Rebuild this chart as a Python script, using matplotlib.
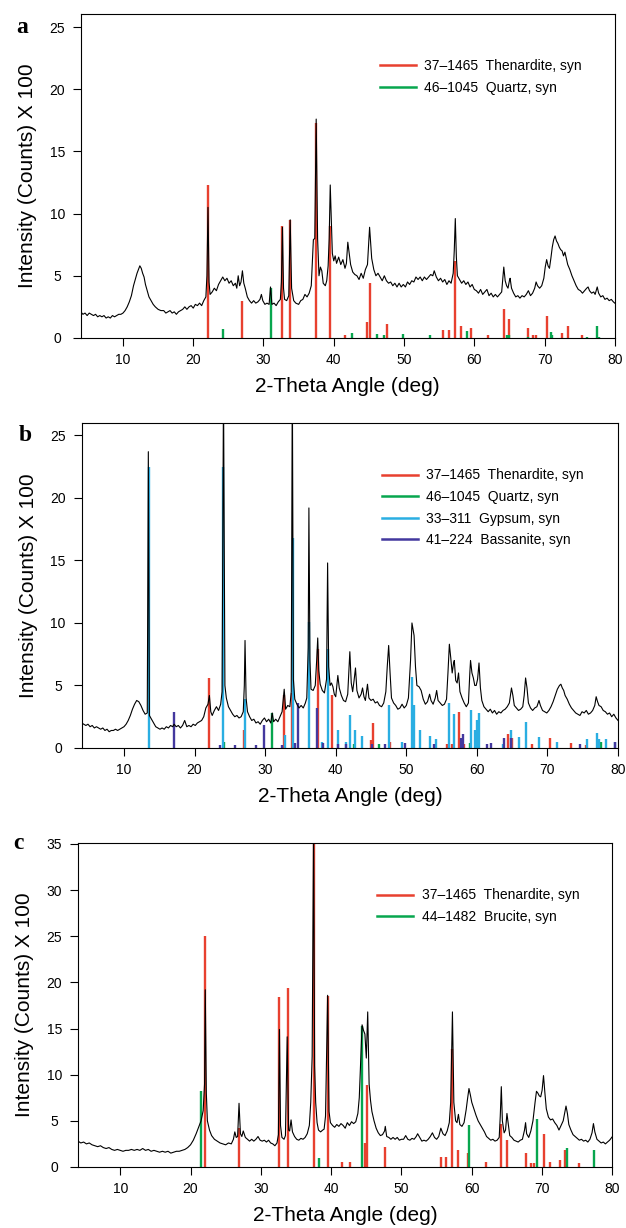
import matplotlib
matplotlib.use("Agg")
import matplotlib.pyplot as plt
from matplotlib.lines import Line2D

plt.rcParams['font.family'] = ['Liberation Sans', 'DejaVu Sans']

RED = '#e8402f'
GREEN = '#07a64e'
CYAN = '#2aaee2'
PURPLE = '#43389e'

# ---- panel a : measured pattern ----
xa = [4.0, 4.3, 4.6, 4.9, 5.2, 5.5, 5.8, 6.1, 6.4, 6.7, 7.0, 7.3, 7.6, 7.9, 8.2, 8.5, 8.8, 9.1, 9.4, 9.7,
      10.0, 10.3, 10.6, 10.9, 11.2, 11.5, 11.8, 12.0, 12.2, 12.4, 12.6, 12.8, 13.0, 13.2, 13.4, 13.7, 14.0,
      14.3, 14.6, 15.0, 15.4, 15.8, 16.1, 16.4, 16.7, 17.0, 17.3, 17.6, 17.9, 18.2, 18.5, 18.8, 19.1, 19.4,
      19.7, 20.0, 20.3, 20.6, 20.9, 21.2, 21.5, 21.8, 21.95, 22.1, 22.25, 22.4, 22.7, 23.0, 23.3, 23.6, 23.9,
      24.2, 24.5, 24.8, 25.1, 25.4, 25.7, 26.0, 26.2, 26.4, 26.6, 26.8, 27.0, 27.2, 27.4, 27.7, 28.0, 28.3,
      28.6, 28.9, 29.2, 29.5, 29.7, 29.9, 30.2, 30.5, 30.8, 31.0, 31.2, 31.5, 31.8, 32.1, 32.4, 32.55, 32.7,
      32.85, 33.0, 33.3, 33.6, 33.8, 34.0, 34.3, 34.6, 35.0, 35.3, 35.6, 35.9, 36.2, 36.5, 36.8, 37.1, 37.3,
      37.5, 37.7, 37.9, 38.1, 38.3, 38.5, 38.8, 39.0, 39.2, 39.35, 39.5, 39.65, 39.8, 40.0, 40.2, 40.4, 40.7,
      41.0, 41.3, 41.6, 41.8, 42.0, 42.2, 42.4, 42.7, 43.0, 43.3, 43.6, 43.9, 44.2, 44.5, 44.8, 45.1, 45.4,
      45.7, 46.0, 46.3, 46.6, 46.9, 47.2, 47.5, 47.8, 48.1, 48.4, 48.7, 49.0, 49.3, 49.6, 49.9, 50.2, 50.5,
      50.8, 51.1, 51.4, 51.7, 52.0, 52.3, 52.6, 52.9, 53.2, 53.5, 53.8, 54.1, 54.3, 54.6, 54.9, 55.2, 55.5,
      55.8, 56.1, 56.4, 56.7, 57.0, 57.15, 57.3, 57.45, 57.6, 57.9, 58.2, 58.5, 58.8, 59.1, 59.4, 59.7, 60.0,
      60.3, 60.6, 60.9, 61.2, 61.5, 61.8, 62.1, 62.4, 62.7, 63.0, 63.3, 63.6, 63.9, 64.2, 64.4, 64.6, 64.8,
      65.0, 65.1, 65.3, 65.6, 65.9, 66.2, 66.5, 66.8, 67.1, 67.4, 67.7, 68.0, 68.3, 68.6, 68.8, 69.0, 69.3,
      69.6, 69.9, 70.1, 70.3, 70.5, 70.7, 70.9, 71.1, 71.3, 71.5, 71.7, 71.9, 72.1, 72.3, 72.5, 72.7, 72.9,
      73.1, 73.3, 73.6, 73.9, 74.2, 74.5, 74.8, 75.1, 75.4, 75.7, 76.0, 76.2, 76.4, 76.7, 77.0, 77.2, 77.5,
      77.7, 78.0, 78.3, 78.6, 78.9, 79.2, 79.5, 79.8, 80.0]
ya = [2.1, 1.9, 2.0, 1.8, 2.0, 1.9, 1.8, 1.9, 1.7, 1.8, 1.7, 1.8, 1.6, 1.7, 1.6, 1.8, 1.7, 1.8, 1.9, 1.9,
      2.0, 2.2, 2.5, 2.9, 3.4, 4.2, 4.8, 5.2, 5.5, 5.8, 5.6, 5.2, 4.9, 4.3, 3.9, 3.3, 3.0,
      2.7, 2.5, 2.3, 2.2, 2.2, 2.0, 2.1, 2.2, 2.0, 2.1, 1.9, 2.1, 2.2, 2.3, 2.5, 2.3, 2.5,
      2.6, 2.4, 2.7, 2.6, 2.8, 2.6, 3.0, 3.3, 5.0, 10.5, 4.5, 3.5, 3.7, 4.0, 3.8, 4.3, 4.6,
      4.9, 4.6, 4.8, 4.4, 4.6, 4.2, 4.4, 4.0, 5.0, 4.2, 4.5, 5.4, 4.4, 4.0, 3.3, 3.0, 2.8,
      3.0, 2.8, 2.9, 3.1, 3.5, 3.0, 2.7, 2.8, 2.7, 4.1, 2.7, 2.8, 2.6, 2.9, 3.1, 4.5, 8.9,
      4.0, 3.1, 3.0, 3.4, 9.5, 4.0, 3.0, 2.8, 2.7, 3.0, 3.1, 3.5, 3.3, 3.6, 4.2, 7.9, 8.0,
      17.6, 8.0, 5.0, 5.7, 5.4, 4.4, 4.2, 4.6, 5.8, 8.0, 12.3, 9.5, 6.8, 6.2, 6.6, 6.0, 6.5,
      5.9, 6.3, 5.6, 6.0, 7.7, 6.8, 5.9, 5.3, 5.1, 5.0, 4.7, 5.2, 4.8, 5.5, 5.9, 8.9, 6.4,
      5.5, 5.0, 5.2, 4.9, 4.6, 5.0, 4.6, 4.4, 4.5, 4.2, 4.4, 4.1, 4.4, 4.1, 4.3, 4.1, 4.5,
      4.3, 4.6, 4.5, 4.9, 4.7, 4.9, 4.6, 4.9, 4.7, 4.9, 5.1, 5.0, 5.4, 4.9, 4.6, 4.8, 4.5,
      4.7, 4.3, 4.6, 4.4, 5.2, 7.0, 9.6, 6.5, 5.0, 4.7, 4.4, 4.6, 4.3, 4.5, 4.1, 4.3, 3.9,
      3.8, 3.6, 3.9, 3.5, 3.7, 3.9, 3.4, 3.6, 3.3, 3.5, 3.3, 3.5, 3.7, 5.7, 4.6, 4.2, 4.0,
      4.6, 4.8, 4.0, 3.6, 3.3, 3.4, 3.2, 3.4, 3.3, 3.5, 3.8, 3.4, 3.6, 4.0, 4.5, 4.2, 4.0,
      4.2, 4.8, 5.7, 6.3, 5.8, 5.6, 6.4, 7.3, 7.9, 8.2, 7.8, 7.6, 7.3, 7.1, 7.0, 6.6, 6.9,
      6.4, 5.9, 5.5, 5.0, 4.6, 4.2, 3.9, 3.8, 3.6, 3.8, 4.0, 4.1, 3.8, 3.6, 3.7, 3.5, 4.1,
      3.6, 3.3, 3.4, 3.1, 3.2, 3.0, 3.1, 2.9, 2.8]

# reference sticks, panel a
then_a_pos = [22.1, 26.9, 32.7, 33.8, 37.5, 39.5, 41.6, 44.8, 45.1, 47.6, 55.6, 56.4, 57.3, 58.1, 59.6,
              62.0, 64.2, 65.0, 67.7, 68.4, 68.8, 70.3, 72.5, 73.3, 75.3]
then_a_h = [12.3, 3.0, 9.0, 9.5, 17.3, 9.0, 0.2, 1.3, 4.4, 1.1, 0.6, 0.6, 6.2, 1.0, 0.8,
            0.2, 2.3, 1.5, 0.8, 0.2, 0.2, 1.8, 0.4, 0.95, 0.2]
qtz_a_pos = [24.3, 31.0, 42.6, 46.1, 47.1, 49.8, 53.7, 58.9, 64.6, 65.0, 67.6, 70.9, 71.1, 76.0, 77.4, 77.8]
qtz_a_h = [0.7, 4.0, 0.4, 0.35, 0.2, 0.3, 0.2, 0.55, 0.2, 0.2, 0.1, 0.45, 0.2, 0.1, 0.95, 0.1]

# ---- panel b : measured pattern ----
xb = [4.0, 4.3, 4.6, 4.9, 5.2, 5.5, 5.8, 6.1, 6.4, 6.7, 7.0, 7.3, 7.6, 7.9, 8.2, 8.5, 8.8, 9.1, 9.4, 9.7,
      10.0, 10.3, 10.6, 10.9, 11.2, 11.5, 11.8, 12.1, 12.4, 12.7, 13.0, 13.3, 13.45, 13.6, 13.9, 14.2, 14.5,
      14.8, 15.1, 15.4, 15.7, 16.0, 16.3, 16.6, 16.9, 17.1, 17.4, 17.7, 18.0, 18.3, 18.6, 18.9, 19.2, 19.5,
      19.8, 20.1, 20.4, 20.7, 21.0, 21.3, 21.6, 21.9, 22.1, 22.3, 22.5, 22.8, 23.1, 23.4, 23.7, 23.9, 24.1,
      24.3, 24.5, 24.8, 25.1, 25.4, 25.7, 26.0, 26.3, 26.6, 26.9, 27.05, 27.15, 27.3, 27.5, 27.8, 28.1, 28.4,
      28.7, 29.0, 29.3, 29.6, 29.9, 30.2, 30.5, 30.8, 31.0, 31.2, 31.5, 31.8, 32.1, 32.4, 32.7, 32.9, 33.2,
      33.5, 33.7, 33.85, 34.0, 34.2, 34.5, 34.8, 35.1, 35.4, 35.7, 35.9, 36.1, 36.2, 36.35, 36.5, 36.8, 37.1,
      37.3, 37.45, 37.6, 37.8, 38.1, 38.4, 38.7, 38.85, 39.0, 39.2, 39.4, 39.6, 39.8, 40.0, 40.3, 40.5, 40.8,
      41.1, 41.4, 41.7, 42.0, 42.2, 42.4, 42.6, 42.8, 43.0, 43.3, 43.6, 43.8, 44.0, 44.2, 44.5, 44.7, 45.0,
      45.3, 45.6, 45.9, 46.2, 46.5, 46.8, 47.1, 47.3, 47.5, 47.7, 47.9, 48.2, 48.5, 48.8, 49.1, 49.4, 49.7,
      50.0, 50.3, 50.6, 50.8, 51.0, 51.1, 51.3, 51.5, 51.8, 52.1, 52.4, 52.7, 53.0, 53.3, 53.5, 53.8, 54.1,
      54.3, 54.5, 54.8, 55.1, 55.4, 55.7, 55.9, 56.1, 56.3, 56.5, 56.7, 56.8, 57.0, 57.2, 57.4, 57.6, 57.9,
      58.2, 58.5, 58.8, 59.0, 59.1, 59.3, 59.5, 59.7, 59.9, 60.1, 60.3, 60.5, 60.7, 61.0, 61.3, 61.6, 61.9,
      62.2, 62.5, 62.8, 63.1, 63.4, 63.7, 64.0, 64.3, 64.6, 64.9, 65.1, 65.3, 65.6, 65.9, 66.2, 66.5, 66.7,
      66.9, 67.1, 67.3, 67.6, 67.9, 68.2, 68.5, 68.8, 69.0, 69.3, 69.6, 69.9, 70.2, 70.5, 70.8, 71.1, 71.4,
      71.7, 71.9, 72.1, 72.3, 72.5, 72.8, 73.1, 73.4, 73.7, 74.0, 74.3, 74.6, 74.9, 75.2, 75.5, 75.8, 76.1,
      76.4, 76.7, 76.9, 77.1, 77.3, 77.6, 77.9, 78.2, 78.5, 78.8, 79.1, 79.4, 79.7, 80.0]
yb = [2.0, 1.9, 1.8, 1.9, 1.7, 1.8, 1.6, 1.7, 1.6, 1.5, 1.6, 1.4, 1.5, 1.3, 1.4, 1.4, 1.5, 1.4, 1.5, 1.6,
      1.7, 1.9, 2.2, 2.6, 3.1, 3.5, 3.8, 3.7, 3.4, 3.0, 2.7, 2.8, 23.7, 2.6, 2.3, 2.0, 1.7,
      1.6, 1.5, 1.6, 1.5, 1.7, 1.6, 1.8, 1.7, 1.9, 1.7, 1.8, 1.6, 1.8, 2.2, 1.7, 1.8, 1.7,
      1.9, 1.8, 2.0, 2.1, 2.2, 2.5, 3.2, 3.5, 4.2, 2.9, 2.6, 3.0, 3.3, 3.0, 3.5, 4.5, 29.0,
      5.0, 4.0, 3.3, 3.0, 2.7, 2.5, 2.6, 2.4, 2.5, 2.9, 5.0, 8.6, 4.0, 2.9, 2.5, 2.2, 2.3,
      2.0, 2.1, 1.9, 2.2, 2.4, 2.1, 2.3, 2.0, 2.8, 2.1, 2.3, 2.1, 2.5, 2.9, 4.7, 3.1, 3.4,
      3.3, 4.5, 30.0, 5.5, 3.9, 3.5, 3.2, 3.4, 3.2, 3.6, 4.0, 8.0, 19.2, 7.0, 4.7, 4.6, 5.0,
      7.0, 8.8, 6.2, 5.1, 4.6, 4.4, 5.5, 14.8, 6.5, 5.0, 5.2, 4.9, 4.3, 4.1, 5.8, 4.8, 4.2,
      3.8, 3.7, 4.3, 7.7, 5.2, 4.5, 5.4, 6.4, 4.6, 4.0, 4.3, 4.8, 4.1, 3.8, 5.1, 4.0, 3.8,
      3.9, 3.6, 3.7, 3.4, 3.3, 3.6, 4.5, 6.5, 8.2, 6.0, 4.0, 3.6, 3.4, 3.1, 3.2, 3.5, 3.2,
      3.4, 4.0, 7.0, 10.0, 9.3, 9.0, 6.5, 5.0, 4.9, 4.6, 3.9, 3.5, 3.7, 4.3, 3.8, 3.5, 4.0,
      4.6, 3.8, 3.6, 3.4, 3.5, 3.9, 6.0, 8.3, 7.2, 6.0, 6.8, 7.0, 5.4, 5.2, 6.0, 4.5, 4.0,
      3.6, 3.3, 3.6, 6.0, 7.0, 6.0, 5.6, 5.0, 5.0, 5.5, 6.8, 4.8, 3.8, 3.3, 3.1, 2.9, 3.1,
      2.8, 3.0, 2.7, 2.9, 2.8, 3.0, 3.1, 3.3, 3.6, 4.8, 4.2, 3.4, 3.2, 3.0, 3.1, 3.3, 4.2,
      5.6, 4.8, 3.6, 3.2, 3.0, 3.2, 3.3, 3.8, 3.4, 3.0, 2.9, 2.8, 3.0, 3.3, 3.7, 4.2, 4.7,
      5.0, 5.1, 4.8, 4.6, 4.2, 3.9, 3.5, 3.2, 3.0, 2.8, 2.7, 2.6, 2.9, 2.8, 3.0, 2.7, 2.8,
      3.0, 3.4, 4.1, 3.7, 3.4, 3.3, 3.0, 2.9, 2.7, 2.8, 2.5, 2.7, 2.4, 2.2]

then_b_pos = [22.1, 27.0, 32.7, 33.8, 37.5, 39.5, 45.0, 45.3, 47.7, 55.7, 56.5, 57.4, 58.2, 64.4, 65.0,
              67.8, 70.3, 73.3, 75.5]
then_b_h = [5.6, 1.4, 4.2, 4.4, 7.9, 4.2, 0.6, 2.0, 0.5, 0.3, 0.3, 2.9, 0.3, 1.1, 0.8,
            0.3, 0.8, 0.4, 0.2]
qtz_b_pos = [24.2, 31.0, 42.6, 46.1, 59.0, 77.6]
qtz_b_h = [0.5, 2.8, 0.3, 0.3, 0.4, 0.5]
gyp_b_pos = [13.5, 24.1, 27.2, 32.8, 33.9, 36.2, 38.0, 38.9, 40.3, 41.4, 42.0, 42.8, 43.7, 47.5, 49.4,
             50.8, 51.1, 51.9, 53.3, 54.2, 56.1, 56.7, 59.2, 59.7, 60.0, 60.3, 63.7, 64.9, 65.9, 66.9,
             68.8, 71.4, 75.6, 77.0, 77.3, 78.3, 79.5]
gyp_b_h = [22.5, 22.5, 3.9, 1.0, 16.8, 10.1, 0.5, 7.9, 1.4, 0.5, 2.6, 1.4, 0.95, 3.4, 0.5,
           5.7, 3.4, 1.4, 0.95, 0.7, 3.6, 2.7, 3.0, 1.4, 2.2, 2.8, 0.3, 1.4, 0.9, 2.1,
           0.9, 0.5, 0.7, 1.2, 0.7, 0.7, 0.5]
bas_b_pos = [17.1, 23.6, 25.8, 28.7, 29.9, 32.4, 34.2, 34.6, 37.3, 38.2, 40.3, 41.4, 45.2, 47.0, 49.8,
             53.9, 57.8, 58.1, 61.5, 62.0, 63.8, 64.8, 74.6, 79.5]
bas_b_h = [2.9, 0.2, 0.2, 0.2, 1.8, 0.2, 0.4, 3.6, 3.2, 0.4, 0.3, 0.3, 0.3, 0.3, 0.4,
           0.3, 0.8, 1.1, 0.3, 0.4, 0.8, 0.8, 0.3, 0.5]

# ---- panel c : measured pattern ----
xc = [4.0, 4.4, 4.8, 5.2, 5.6, 6.0, 6.4, 6.8, 7.2, 7.6, 8.0, 8.4, 8.8, 9.2, 9.6, 10.0, 10.4, 10.8, 11.2,
      11.6, 12.0, 12.4, 12.8, 13.2, 13.6, 14.0, 14.4, 14.8, 15.2, 15.6, 16.0, 16.4, 16.8, 17.2, 17.6, 18.0,
      18.4, 18.8, 19.2, 19.6, 20.0, 20.4, 20.8, 21.2, 21.5, 21.8, 22.0, 22.1, 22.25, 22.4, 22.7, 23.0, 23.4,
      23.8, 24.2, 24.6, 25.0, 25.4, 25.8, 26.1, 26.3, 26.5, 26.7, 26.9, 27.1, 27.3, 27.5, 27.8, 28.1, 28.4,
      28.7, 29.0, 29.3, 29.6, 29.9, 30.2, 30.5, 30.8, 31.1, 31.4, 31.7, 32.0, 32.3, 32.5, 32.65, 32.8, 33.0,
      33.3, 33.5, 33.75, 33.95, 34.1, 34.3, 34.5, 34.8, 35.1, 35.4, 35.7, 36.0, 36.3, 36.6, 36.9, 37.1, 37.3,
      37.5, 37.65, 37.8, 38.0, 38.2, 38.5, 38.8, 39.0, 39.2, 39.5, 39.7, 39.9, 40.2, 40.5, 40.8, 41.1, 41.4,
      41.7, 42.0, 42.3, 42.6, 42.9, 43.2, 43.5, 43.8, 44.0, 44.2, 44.4, 44.6, 44.8, 45.0, 45.2, 45.4, 45.6,
      45.8, 46.1, 46.4, 46.7, 47.0, 47.3, 47.6, 47.7, 47.9, 48.2, 48.5, 48.8, 49.1, 49.4, 49.7, 50.0, 50.3,
      50.6, 50.9, 51.2, 51.5, 51.8, 52.1, 52.3, 52.6, 52.9, 53.2, 53.5, 53.8, 54.1, 54.4, 54.7, 55.0, 55.3,
      55.6, 55.9, 56.2, 56.5, 56.8, 57.0, 57.25, 57.45, 57.7, 57.9, 58.1, 58.3, 58.6, 58.9, 59.2, 59.4, 59.6,
      59.8, 60.0, 60.3, 60.6, 60.9, 61.2, 61.5, 61.8, 62.1, 62.4, 62.7, 63.0, 63.3, 63.6, 63.9, 64.05, 64.2,
      64.35, 64.6, 64.8, 65.0, 65.2, 65.4, 65.7, 66.0, 66.3, 66.6, 66.9, 67.2, 67.5, 67.65, 67.8, 68.1, 68.4,
      68.7, 69.0, 69.2, 69.4, 69.6, 69.8, 70.0, 70.2, 70.4, 70.6, 70.9, 71.2, 71.5, 71.8, 72.1, 72.4, 72.7,
      73.0, 73.2, 73.4, 73.6, 73.8, 74.1, 74.4, 74.7, 75.0, 75.3, 75.6, 75.9, 76.2, 76.5, 76.8, 77.1, 77.3,
      77.5, 77.8, 78.1, 78.4, 78.7, 79.0, 79.3, 79.6, 80.0]
yc = [2.8, 2.6, 2.7, 2.5, 2.6, 2.4, 2.3, 2.2, 2.3, 2.1, 2.0, 2.1, 1.9, 1.8, 1.9, 1.8, 1.7, 1.8, 1.8,
      1.9, 1.8, 1.9, 1.8, 2.0, 1.8, 1.9, 1.7, 1.8, 1.7, 1.6, 1.7, 1.6, 1.7, 1.5, 1.6, 1.7,
      1.7, 1.8, 1.9, 2.1, 2.4, 2.9, 3.6, 4.4, 5.0, 6.1, 9.0, 19.2, 8.0, 5.0, 4.0, 3.4, 3.0,
      2.8, 2.6, 2.5, 2.4, 2.6, 2.5, 3.0, 3.8, 3.2, 3.3, 6.9, 3.6, 3.3, 3.9, 3.2, 3.0, 2.8,
      3.0, 2.8, 3.0, 3.3, 2.9, 2.8, 2.9, 2.7, 2.9, 2.6, 2.5, 2.3, 2.6, 3.5, 14.9, 4.5, 3.2,
      3.0, 3.4, 14.1, 4.0, 3.9, 5.1, 3.8, 3.3, 3.0, 2.9, 3.1, 3.0, 3.2, 3.6, 4.5, 7.0, 12.0,
      37.0, 11.0, 7.0, 4.8, 4.0, 3.8, 4.0, 4.1, 5.5, 18.6, 6.0, 4.8, 4.5, 4.3, 4.6, 4.4, 4.7,
      4.5, 4.2, 4.8, 4.5, 4.9, 4.7, 4.9, 5.8, 7.5, 11.5, 15.4, 14.8, 14.4, 11.8, 16.8, 9.0, 7.2,
      6.0, 5.0, 4.2, 3.7, 3.4, 3.5, 3.9, 4.4, 3.3, 3.2, 3.0, 3.2, 3.0, 3.2, 2.9, 3.0, 3.0,
      3.4, 3.0, 2.9, 3.1, 3.0, 3.3, 3.6, 3.2, 2.8, 2.9, 2.8, 3.0, 3.3, 3.7, 3.2, 3.0, 3.3,
      4.2, 3.6, 3.4, 3.9, 4.8, 7.0, 16.8, 7.0, 5.0, 4.8, 5.7, 4.6, 4.4, 4.8, 6.2, 7.4, 8.5,
      7.8, 7.0, 6.3, 5.6, 5.0, 4.6, 4.2, 3.8, 3.3, 3.1, 2.9, 3.0, 2.8, 2.9, 3.2, 5.5, 8.7,
      5.0, 3.7, 4.0, 5.8, 4.6, 3.4, 3.2, 2.9, 2.8, 2.7, 2.9, 3.0, 4.0, 4.8, 3.6, 3.2, 3.9,
      5.0, 7.0, 8.2, 8.0, 7.7, 7.6, 8.3, 9.9, 8.0, 6.3, 5.4, 5.1, 5.2, 4.8, 4.5, 4.0, 4.5,
      5.0, 5.8, 6.6, 5.8, 4.6, 4.0, 3.5, 3.3, 3.1, 2.9, 3.0, 2.8, 2.9, 2.7, 3.0, 3.7, 4.7,
      3.8, 3.0, 2.8, 2.6, 2.7, 2.5, 2.7, 2.9, 3.3]

then_c_pos = [22.1, 26.9, 32.6, 33.8, 37.5, 39.5, 41.5, 42.7, 44.8, 45.1, 47.6, 55.6, 56.4, 57.2, 58.1,
              59.5, 62.0, 64.1, 65.0, 67.7, 68.4, 68.9, 70.3, 71.1, 72.5, 73.3, 75.3]
then_c_h = [25.0, 4.2, 18.4, 19.4, 35.0, 18.5, 0.5, 0.5, 2.6, 8.9, 2.2, 1.1, 1.1, 12.8, 1.8,
            1.5, 0.5, 4.7, 2.9, 1.5, 0.4, 0.4, 3.6, 0.5, 0.8, 1.8, 0.4]
bru_c_pos = [21.5, 38.3, 44.4, 59.6, 69.3, 73.6, 77.4]
bru_c_h = [8.2, 1.0, 15.3, 4.5, 5.2, 2.1, 1.8]


def draw_panel(ax, x, y, sticks, ymax, yticks, letter, letter_x):
    # reference lines first, measured pattern on top
    for pos, h, color, label in sticks:
        ax.vlines(pos, 0, h, colors=color, lw=1.7, zorder=2)
    ax.plot(x, y, color='black', lw=0.8, zorder=3)

    ax.set_xlim(4, 80)
    ax.set_ylim(0, ymax)
    ax.set_xticks([10, 20, 30, 40, 50, 60, 70, 80])
    ax.set_yticks(yticks)
    ax.tick_params(direction='out', length=6, width=0.8, labelsize=10)
    ax.tick_params(axis='x', pad=5)
    ax.tick_params(axis='y', pad=11)
    for lab in ax.get_yticklabels():
        lab.set_horizontalalignment('center')
    for s in ax.spines.values():
        s.set_linewidth(0.8)
    ax.set_xlabel('2-Theta Angle (deg)', fontsize=15, labelpad=7)
    ax.set_ylabel('Intensity (Counts) X 100', fontsize=15, labelpad=9)

    handles = [Line2D([], [], color=c, lw=1.8) for _, _, c, _ in sticks]
    labels = [lab for _, _, _, lab in sticks]
    ax.legend(handles, labels, loc='upper left', bbox_to_anchor=(0.56, 0.86), frameon=False,
              fontsize=10, handlelength=2.6, handletextpad=0.6, labelspacing=0.55,
              borderpad=0, borderaxespad=0)

    ax.text(letter_x, yticks[-1], letter, transform=ax.get_yaxis_transform(), fontsize=17,
            fontweight='bold', family='Liberation Serif', ha='center', va='center')


fig = plt.figure(figsize=(6.26, 12.28), dpi=100)

ax_a = fig.add_axes([0.1291, 0.7248, 0.8530, 0.2638])
draw_panel(ax_a, xa, ya,
           [(then_a_pos, then_a_h, RED, '37\u20131465  Thenardite, syn'),
            (qtz_a_pos, qtz_a_h, GREEN, '46\u20131045  Quartz, syn')],
           26.05, [0, 5, 10, 15, 20, 25], 'a', -0.110)

ax_b = fig.add_axes([0.1304, 0.3909, 0.8569, 0.2647])
draw_panel(ax_b, xb, yb,
           [(then_b_pos, then_b_h, RED, '37\u20131465  Thenardite, syn'),
            (qtz_b_pos, qtz_b_h, GREEN, '46\u20131045  Quartz, syn'),
            (gyp_b_pos, gyp_b_h, CYAN, '33\u2013311  Gypsum, syn'),
            (bas_b_pos, bas_b_h, PURPLE, '41\u2013224  Bassanite, syn')],
           26.0, [0, 5, 10, 15, 20, 25], 'b', -0.105)

ax_c = fig.add_axes([0.1246, 0.0497, 0.8537, 0.2638])
draw_panel(ax_c, xc, yc,
           [(then_c_pos, then_c_h, RED, '37\u20131465  Thenardite, syn'),
            (bru_c_pos, bru_c_h, GREEN, '44\u20131482  Brucite, syn')],
           35.1, [0, 5, 10, 15, 20, 25, 30, 35], 'c', -0.111)

plt.savefig('out.png', dpi=100)
plt.close()
